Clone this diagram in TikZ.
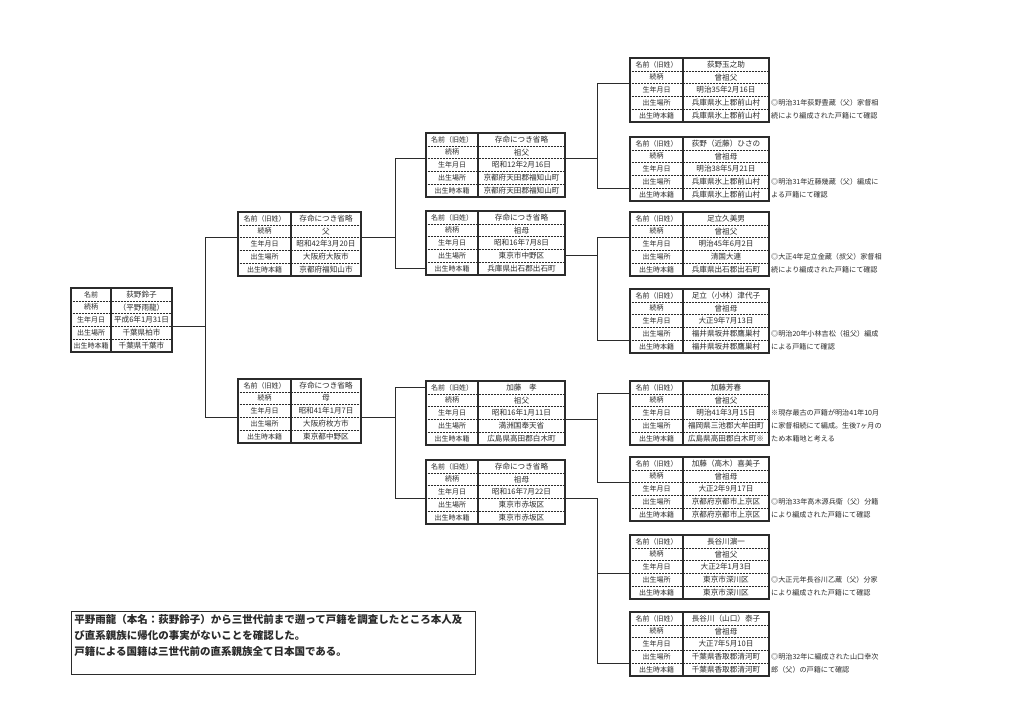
\documentclass[tikz,border=0pt]{standalone}
\usepackage{fontspec}
\setmainfont{Noto Sans CJK JP}
\usetikzlibrary{positioning}
\definecolor{ink}{HTML}{2B2B2B}

\tikzset{
	cell/.style={inner sep=0pt, outer sep=0pt, minimum height=12.8pt, text=ink},
	labcell/.style={cell, minimum width=\labw, font=\fontsize{7}{8}\selectfont},
	valcell/.style={cell, minimum width=\valw, font=\fontsize{7.6}{8}\selectfont},
	frame/.style={draw=ink, line width=1.1pt},
	rowsep/.style={draw=ink, densely dotted, line width=0.5pt},
	link/.style={draw=ink, line width=0.9pt},
	note/.style={inner sep=0pt, text=ink, font=\fontsize{7.1}{8}\selectfont},
	summary/.style={draw=ink, line width=0.8pt, align=left, text width=398pt, inner xsep=3pt, inner ysep=3pt, text=ink, font=\bfseries\fontsize{10.5}{16}\selectfont}
}

\def\labw{53pt}
\def\valw{86pt}
% one record: name, top left corner, first label, five values
\newcommand{\famcard}[8]{%
	\node[labcell, anchor=north west] (#1-l1) at #2 {#3};
	\node[valcell, right=0pt of #1-l1] (#1-v1) {#4};
	\node[labcell, below=0pt of #1-l1] (#1-l2) {続柄};
	\node[valcell, right=0pt of #1-l2] (#1-v2) {#5};
	\node[labcell, below=0pt of #1-l2] (#1-l3) {生年月日};
	\node[valcell, right=0pt of #1-l3] (#1-v3) {#6};
	\node[labcell, below=0pt of #1-l3] (#1-l4) {出生場所};
	\node[valcell, right=0pt of #1-l4] (#1-v4) {#7};
	\node[labcell, below=0pt of #1-l4] (#1-l5) {出生時本籍};
	\node[valcell, right=0pt of #1-l5] (#1-v5) {#8};
	\foreach \rw in {1,...,4}
		\draw[rowsep] (#1-l\rw.south west) -- (#1-v\rw.south east);
	\draw[frame] (#1-l1.north east) -- (#1-l5.south east);
	\draw[frame] (#1-l1.north west) rectangle (#1-v5.south east);
}

\begin{document}
\begin{tikzpicture}[x=1pt, y=-1pt]
	\useasboundingbox[fill=white] (0,0) rectangle (1024,704);

	% self
	\def\labw{40pt}\def\valw{61pt}
	\famcard{me}{(71,288)}{名前}{荻野鈴子}{（平野雨龍）}{平成6年1月31日}{千葉県柏市}{千葉県千葉市}

	% parents
	\def\labw{53pt}\def\valw{70pt}
	\famcard{fa}{(238,212)}{名前（旧姓）}{存命につき省略}{父}{昭和42年3月20日}{大阪府大阪市}{京都府福知山市}
	\famcard{mo}{(238,379)}{名前（旧姓）}{存命につき省略}{母}{昭和41年1月7日}{大阪府枚方市}{東京都中野区}

	% grandparents
	\def\labw{52pt}\def\valw{87pt}
	\famcard{pgf}{(426,133)}{名前（旧姓）}{存命につき省略}{祖父}{昭和12年2月16日}{京都府天田郡福知山町}{京都府天田郡福知山町}
	\famcard{pgm}{(426,211)}{名前（旧姓）}{存命につき省略}{祖母}{昭和16年7月8日}{東京市中野区}{兵庫県出石郡出石町}
	\famcard{mgf}{(426,381)}{名前（旧姓）}{加藤　孝}{祖父}{昭和16年1月11日}{満洲国奉天省}{広島県高田郡白木町}
	\famcard{mgm}{(426,460)}{名前（旧姓）}{存命につき省略}{祖母}{昭和16年7月22日}{東京市赤坂区}{東京市赤坂区}

	% great-grandparents
	\def\labw{53pt}\def\valw{86pt}
	\famcard{gg1}{(630,58)}{名前（旧姓）}{荻野玉之助}{曾祖父}{明治35年2月16日}{兵庫県氷上郡前山村}{兵庫県氷上郡前山村}
	\famcard{gg2}{(630,137)}{名前（旧姓）}{荻野（近藤）ひさの}{曾祖母}{明治38年5月21日}{兵庫県氷上郡前山村}{兵庫県氷上郡前山村}
	\famcard{gg3}{(630,212)}{名前（旧姓）}{足立久美男}{曾祖父}{明治45年6月2日}{清国大連}{兵庫県出石郡出石町}
	\famcard{gg4}{(630,289)}{名前（旧姓）}{足立（小林）津代子}{曾祖母}{大正9年7月13日}{福井県坂井郡鷹巣村}{福井県坂井郡鷹巣村}
	\famcard{gg5}{(630,381)}{名前（旧姓）}{加藤芳春}{曾祖父}{明治41年3月15日}{福岡県三池郡大牟田町}{広島県高田郡白木町※}
	\famcard{gg6}{(630,457)}{名前（旧姓）}{加藤（高木）喜美子}{曾祖母}{大正2年9月17日}{京都府京都市上京区}{京都府京都市上京区}
	\famcard{gg7}{(630,535)}{名前（旧姓）}{長谷川濵一}{曾祖父}{大正2年1月3日}{東京市深川区}{東京市深川区}
	\famcard{gg8}{(630,612)}{名前（旧姓）}{長谷川（山口）泰子}{曾祖母}{大正7年5月10日}{千葉県香取郡清河町}{千葉県香取郡清河町}

	% lines between generations
	\draw[link] (me-v3.south east) -- ++(33,0) coordinate (j0) |- (fa-l2.south west);
	\draw[link] (j0) |- (mo-l3.south west);
	\draw[link] (fa-v2.south east) -- ++(34,0) coordinate (j1) |- (pgf-l2.south west);
	\draw[link] (j1) |- (pgm-l5.west);
	\draw[link] (mo-v3.south east) -- ++(34,0) coordinate (j2) |- (mgf-l1.west);
	\draw[link] (j2) |- (mgm-l3.south west);
	\draw[link] (pgf-v2.south east) -- ++(32,0) coordinate (j3) |- (gg1-l2.south west);
	\draw[link] (j3) |- (gg2-l4.south west);
	\draw[link] (pgm-v4.east) -- ++(32,0) coordinate (j4) |- (gg3-l2.south west);
	\draw[link] (j4) |- (gg4-l4.south west);
	\draw[link] (mgf-v3.south east) -- ++(32,0) coordinate (j5) |- (gg5-l1.south west);
	\draw[link] (j5) |- (gg6-l2.south west);
	\draw[link] (mgm-v3.south east) -- ++(32,0) coordinate (j6) |- (gg7-l3.south west);
	\draw[link] (j6) |- (gg8-l4.south west);

	% remarks
	\node[note, right=2pt of gg1-v4] (gg1-n1) {◎明治31年荻野豊蔵（父）家督相};
	\node[note, right=2pt of gg1-v5] (gg1-n2) {続により編成された戸籍にて確認};
	\node[note, right=2pt of gg2-v4] (gg2-n1) {◎明治31年近藤幾蔵（父）編成に};
	\node[note, right=2pt of gg2-v5] (gg2-n2) {よる戸籍にて確認};
	\node[note, right=2pt of gg3-v4] (gg3-n1) {◎大正4年足立金蔵（叔父）家督相};
	\node[note, right=2pt of gg3-v5] (gg3-n2) {続により編成された戸籍にて確認};
	\node[note, right=2pt of gg4-v4] (gg4-n1) {◎明治20年小林吉松（祖父）編成};
	\node[note, right=2pt of gg4-v5] (gg4-n2) {による戸籍にて確認};
	\node[note, right=2pt of gg5-v3] (gg5-n1) {※現存最古の戸籍が明治41年10月};
	\node[note, right=2pt of gg5-v4] (gg5-n2) {に家督相続にて編成。生後7ヶ月の};
	\node[note, right=2pt of gg5-v5] (gg5-n3) {ため本籍地と考える};
	\node[note, right=2pt of gg6-v4] (gg6-n1) {◎明治33年高木源兵衛（父）分籍};
	\node[note, right=2pt of gg6-v5] (gg6-n2) {により編成された戸籍にて確認};
	\node[note, right=2pt of gg7-v4] (gg7-n1) {◎大正元年長谷川乙蔵（父）分家};
	\node[note, right=2pt of gg7-v5] (gg7-n2) {により編成された戸籍にて確認};
	\node[note, right=2pt of gg8-v4] (gg8-n1) {◎明治32年に編成された山口幸次};
	\node[note, right=2pt of gg8-v5] (gg8-n2) {郎（父）の戸籍にて確認};

	\node[summary, anchor=north west] (memo) at (71,611) {平野雨龍（本名：荻野鈴子）から三世代前まで遡って戸籍を調査したところ本人及\\び直系親族に帰化の事実がないことを確認した。\\戸籍による国籍は三世代前の直系親族全て日本国である。\\\mbox{}};
\end{tikzpicture}
\end{document}
